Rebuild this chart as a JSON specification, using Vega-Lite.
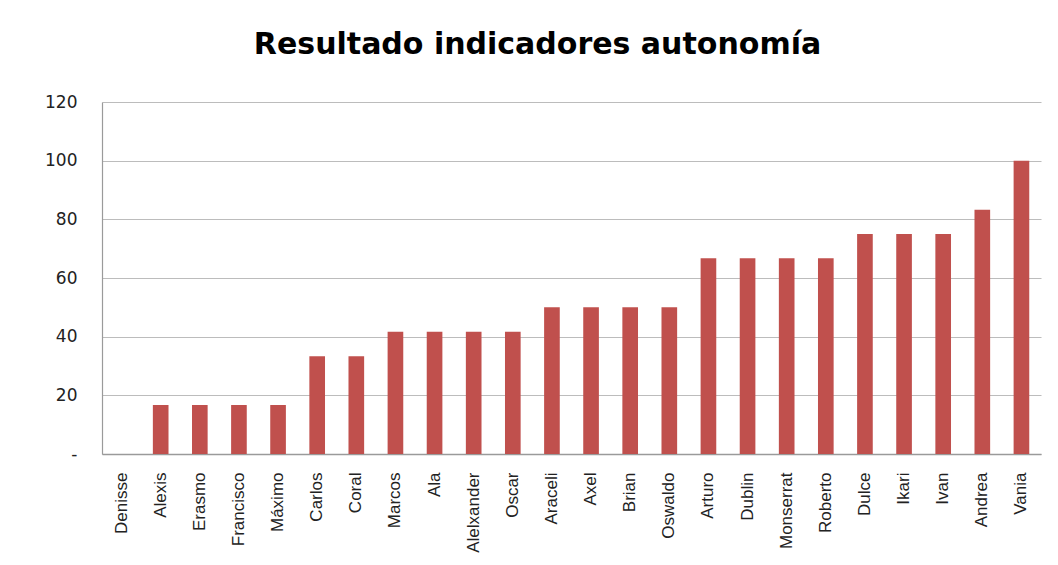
{
  "$schema": "https://vega.github.io/schema/vega-lite/v6.json",
  "width": 939,
  "height": 352,
  "autosize": {"type": "none"},
  "padding": {"left": 102, "top": 102, "right": 17, "bottom": 111},
  "background": "white",
  "title": {
    "text": "Resultado indicadores autonomía",
    "font": "DejaVu Sans",
    "fontSize": 30,
    "fontWeight": "bold",
    "color": "#000000",
    "anchor": "middle",
    "dx": -34,
    "offset": 33
  },
  "data": {
    "values": [
      {"nombre": "Denisse", "valor": 0},
      {"nombre": "Alexis", "valor": 16.7},
      {"nombre": "Erasmo", "valor": 16.7},
      {"nombre": "Francisco", "valor": 16.7},
      {"nombre": "Máximo", "valor": 16.7},
      {"nombre": "Carlos", "valor": 33.3},
      {"nombre": "Coral", "valor": 33.3},
      {"nombre": "Marcos", "valor": 41.7},
      {"nombre": "Ala", "valor": 41.7},
      {"nombre": "Alelxander", "valor": 41.7},
      {"nombre": "Oscar", "valor": 41.7},
      {"nombre": "Araceli", "valor": 50},
      {"nombre": "Axel", "valor": 50},
      {"nombre": "Brian", "valor": 50},
      {"nombre": "Oswaldo", "valor": 50},
      {"nombre": "Arturo", "valor": 66.7},
      {"nombre": "Dublin", "valor": 66.7},
      {"nombre": "Monserrat", "valor": 66.7},
      {"nombre": "Roberto", "valor": 66.7},
      {"nombre": "Dulce", "valor": 75},
      {"nombre": "Ikari", "valor": 75},
      {"nombre": "Ivan", "valor": 75},
      {"nombre": "Andrea", "valor": 83.3},
      {"nombre": "Vania", "valor": 100}
    ]
  },
  "mark": {"type": "bar", "color": "#C0504D"},
  "encoding": {
    "x": {
      "field": "nombre",
      "type": "nominal",
      "sort": null,
      "scale": {"paddingInner": 0.6, "paddingOuter": 0.3},
      "axis": {
        "title": null,
        "labelAngle": -90,
        "labelFont": "Liberation Sans",
        "labelFontSize": 17,
        "labelColor": "#222222",
        "labelPadding": 18,
        "ticks": false,
        "domainColor": "#9a9a9a",
        "domainWidth": 1.5
      }
    },
    "y": {
      "field": "valor",
      "type": "quantitative",
      "scale": {"domain": [0, 120]},
      "axis": {
        "title": null,
        "values": [0, 20, 40, 60, 80, 100, 120],
        "labelExpr": "datum.value == 0 ? '-' : datum.label",
        "labelFont": "DejaVu Sans",
        "labelFontSize": 17,
        "labelColor": "#222222",
        "labelPadding": 25,
        "ticks": false,
        "grid": true,
        "gridColor": "#bcbcbc",
        "gridWidth": 1.2,
        "domainColor": "#9a9a9a",
        "domainWidth": 1.2
      }
    }
  },
  "config": {"view": {"stroke": null}}
}
